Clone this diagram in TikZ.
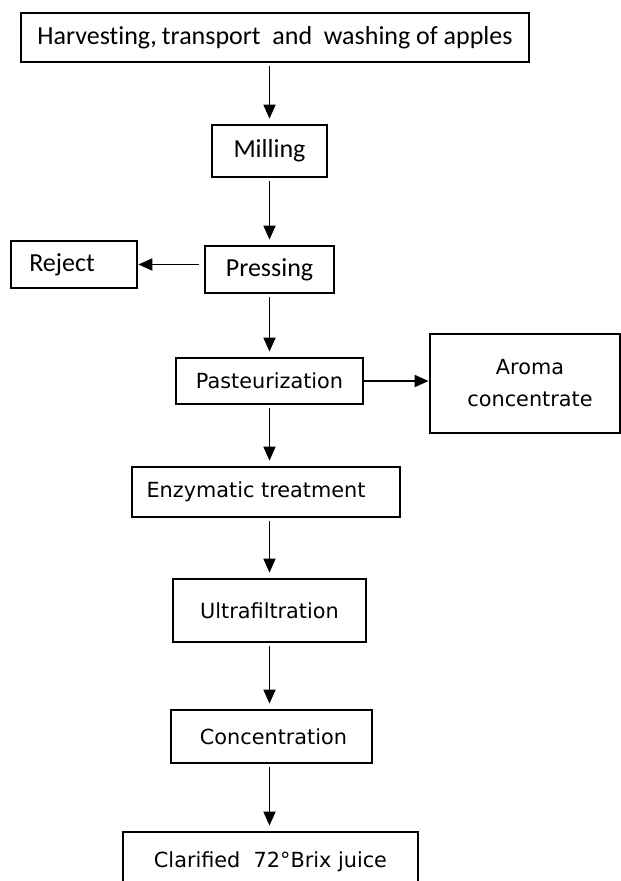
\documentclass[tikz,border=0pt]{standalone}
\usepackage{fontspec}
\setmainfont{DejaVu Sans}
\newfontfamily\calib[Ligatures=NoCommon]{Carlito}
\usetikzlibrary{arrows.meta}
\begin{document}
\begin{tikzpicture}[x=1pt,y=-1pt,
  box/.style={draw, line width=2.8pt, rectangle, inner sep=0pt, anchor=center},
  cal/.style={font=\calib\fontsize{26}{30}\selectfont},
  dvs/.style={font=\fontsize{20.8}{32}\selectfont, align=center},
  arr/.style={line width=1.8pt, -{Triangle[length=14pt,width=12pt]}, shorten <=3pt, shorten >=5pt},
  harr/.style={line width=1.8pt, -{Triangle[length=14pt,width=12pt]}}]
\useasboundingbox (0,0) rectangle (621,881);
\clip (0,0) rectangle (621,881);
\fill[white] (0,0) rectangle (621,881);

\node[box,cal,minimum width=508pt,minimum height=49pt] (top) at (275,37.5) {Harvesting,\kern5pt transport\ \ and\ \ washing of\ apples};
\node[box,cal,minimum width=115pt,minimum height=52pt] (mill) at (269.5,151) {Milling};
\node[box,cal,minimum width=129pt,minimum height=47pt] (press) at (269.5,269.5) {Pressing};
\node[box,cal,minimum width=126pt,minimum height=47pt] (reject) at (74,264.5) {Reject\kern24pt};
\node[box,dvs,minimum width=187pt,minimum height=46pt] (past) at (269.5,381) {Pasteurization};
\node[box,dvs,minimum width=190pt,minimum height=99pt] (aroma) at (525,383.5) {\kern10pt Aroma\\\kern10pt concentrate};
\node[box,dvs,minimum width=268pt,minimum height=50pt] (enz) at (266,492) {Enzymatic treatment\kern20pt};
\node[box,dvs,minimum width=193pt,minimum height=63pt] (ultra) at (269.5,610.5) {Ultrafiltration};
\node[box,dvs,minimum width=201pt,minimum height=53pt] (conc) at (271.5,736.5) {\kern4pt Concentration};
\node[box,dvs,minimum width=295pt,minimum height=60pt] (clar) at (270.5,862) {Clarified\ \ 72°Brix juice};

\draw[arr] (mill.north |- top.south) -- (mill.north);
\draw[arr] (mill.south) -- (press.north);
\draw[harr, shorten <=5pt] (press.west |- reject.east) -- (reject.east);
\draw[arr] (press.south) -- (past.north);
\draw[harr] (past.east) -- (aroma.west |- past.east);
\draw[arr] (past.south) -- (enz.north -| past.south);
\draw[arr] (enz.south -| ultra.north) -- (ultra.north);
\draw[arr] (ultra.south) -- (conc.north -| ultra.south);
\draw[arr] (conc.south -| ultra.south) -- (clar.north -| ultra.south);
\end{tikzpicture}
\end{document}
